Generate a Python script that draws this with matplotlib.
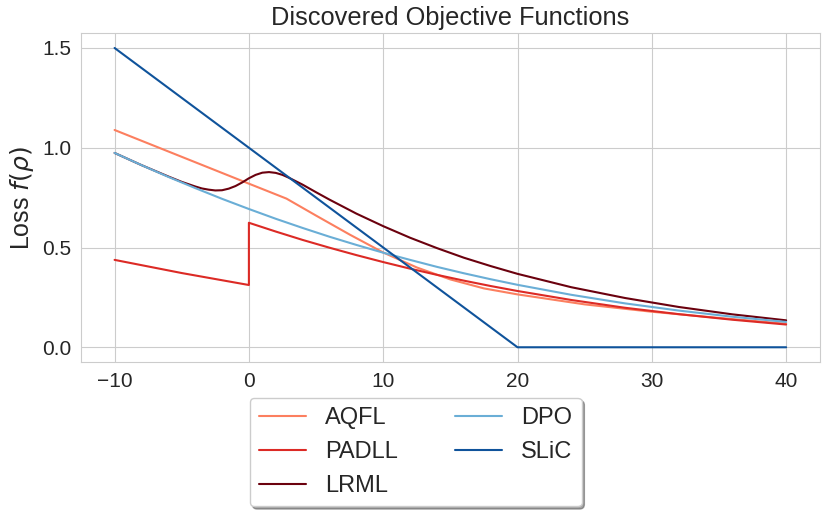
import matplotlib
matplotlib.use('Agg')
import matplotlib.pyplot as plt
import seaborn as sns

sns.set_style('whitegrid')
plt.rcParams['font.family'] = ['Liberation Sans', 'DejaVu Sans']

# valores
aqfl_x = [-10, 0, 2.8, 5, 7.5, 10, 12.5, 15, 17.5, 20, 25, 30, 35, 40]
aqfl_y = [1.089, 0.820, 0.745, 0.660, 0.565, 0.475, 0.400, 0.340, 0.295, 0.265,
          0.215, 0.178, 0.147, 0.118]

padll_x = [-10, -5, 0, 0, 2, 4, 6, 8, 10, 12, 14, 16, 18, 20, 24, 28, 32, 36, 40]
padll_y = [0.438, 0.372, 0.312, 0.624, 0.580, 0.538, 0.499, 0.462, 0.427, 0.394,
           0.363, 0.334, 0.307, 0.282, 0.237, 0.198, 0.166, 0.138, 0.114]

lrml_x = [-10, -8, -6, -5, -4, -3.5, -3, -2.5, -2, -1.5, -1, -0.5, 0, 0.5, 1, 1.5,
          2, 2.5, 3, 4, 5, 6, 8, 10, 12, 14, 16, 18, 20, 24, 28, 32, 36, 40]
lrml_y = [0.974, 0.913, 0.856, 0.829, 0.806, 0.796, 0.790, 0.786, 0.787, 0.795,
          0.808, 0.826, 0.847, 0.864, 0.875, 0.878, 0.874, 0.864, 0.849, 0.815,
          0.777, 0.740, 0.670, 0.607, 0.549, 0.497, 0.449, 0.407, 0.368, 0.301,
          0.247, 0.202, 0.165, 0.135]

dpo_x = [-10, -8, -6, -4, -2, 0, 2, 4, 6, 8, 10, 12, 14, 16, 18, 20, 24, 28, 32, 36, 40]
dpo_y = [0.974, 0.913, 0.854, 0.798, 0.744, 0.693, 0.644, 0.598, 0.554, 0.513,
         0.474, 0.438, 0.403, 0.371, 0.341, 0.313, 0.263, 0.220, 0.184, 0.153, 0.127]

slic_x = [-10, 20, 40]
slic_y = [1.5, 0.0, 0.0]

fig = plt.figure(figsize=(8.3, 5.16), dpi=100)
ax = fig.add_axes([0.0976, 0.298, 0.890, 0.638])

ax.plot(aqfl_x, aqfl_y, color='#fc7f5f', lw=1.5, label='AQFL')
ax.plot(padll_x, padll_y, color='#dc2a25', lw=1.5, label='PADLL')
ax.plot(lrml_x, lrml_y, color='#6b010e', lw=1.5, label='LRML')
ax.plot(dpo_x, dpo_y, color='#6aaed6', lw=1.5, label='DPO')
ax.plot(slic_x, slic_y, color='#0f539b', lw=1.5, label='SLiC')

ax.set_title('Discovered Objective Functions', fontsize=18.3)
ax.set_ylabel(r'Loss $f(\rho)$', fontsize=18)
ax.tick_params(labelsize=15)
ax.set_yticks([0.0, 0.5, 1.0, 1.5])

ax.legend(loc='upper center', bbox_to_anchor=(0.453, -0.072), ncol=2,
          shadow=True, fontsize=17, frameon=True, columnspacing=2.4)

plt.savefig('out.png')
